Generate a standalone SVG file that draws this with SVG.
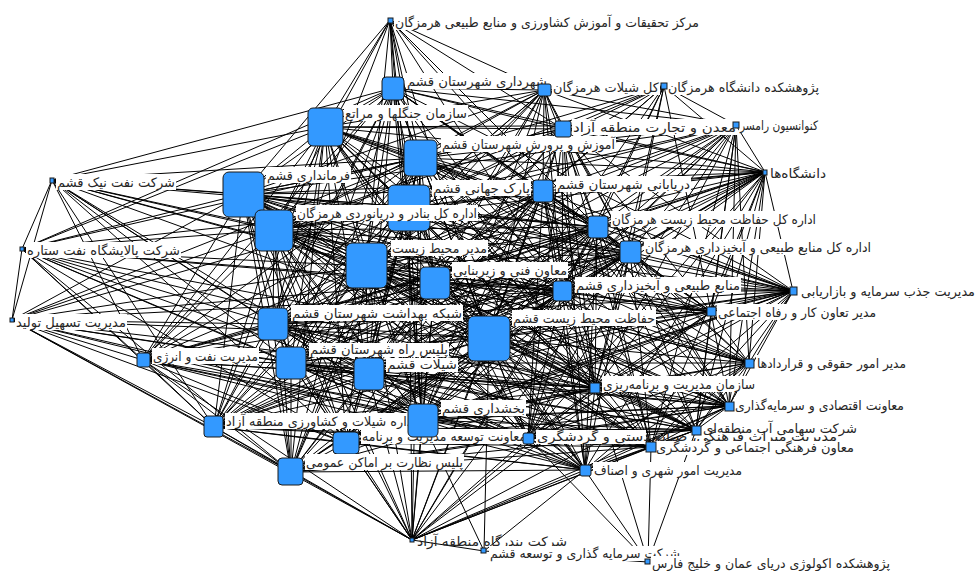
<svg xmlns="http://www.w3.org/2000/svg" width="976" height="571" viewBox="0 0 976 571">
<style>
.e{stroke:#000;stroke-width:1;fill:none}
.n{fill:#3399ff;stroke:#1a1a1a;stroke-width:1}
.b{fill:#fff}
.t{font-family:"DejaVu Sans",sans-serif;font-size:13px;fill:#262626}
</style>
<rect width="976" height="571" fill="#fff"/>
<g id="edges" class="e">
<path d="M390 20L393 88M390 20L544 90M390 20L563 129M390 20L420 158M390 20L325 127M390 20L243 194M390 20L409 207M390 20L274 230M390 20L366 266M390 20L562 291M390 20L543 191M390 20L273 324M390 20L435 283M390 20L489 338M390 20L597 227M390 20L422 420"/>
<path d="M544 90L664 86M544 90L736 125M544 90L563 129M544 90L420 158M544 90L325 127M544 90L409 207M544 90L543 191M544 90L366 266M544 90L435 283M544 90L597 227M544 90L630 252M544 90L562 291M544 90L489 338M544 90L368 374M544 90L765 172M544 90L393 88M544 90L243 194M544 90L274 230M544 90L273 324M544 90L291 363M544 90L422 420M544 90L595 388"/>
<path d="M664 86L736 125M664 86L563 129M664 86L543 191M664 86L597 227M664 86L630 252M664 86L562 291M664 86L489 338M664 86L420 158M664 86L409 207M664 86L435 283M664 86L765 172M664 86L711 312M664 86L366 266M664 86L274 230M664 86L595 388"/>
<path d="M736 125L563 129M736 125L420 158M736 125L409 207M736 125L543 191M736 125L366 266M736 125L435 283M736 125L597 227M736 125L630 252M736 125L562 291M736 125L489 338M736 125L393 88M736 125L595 388M736 125L711 312M736 125L749 363M736 125L765 172M736 125L528 438M736 125L729 406M736 125L325 127M736 125L243 194M736 125L274 230M736 125L273 324M736 125L368 374M736 125L422 420M736 125L651 447M736 125L696 430"/>
<path d="M765 172L563 129M765 172L420 158M765 172L409 207M765 172L543 191M765 172L366 266M765 172L435 283M765 172L597 227M765 172L630 252M765 172L562 291M765 172L489 338M765 172L393 88M765 172L325 127M765 172L243 194M765 172L274 230M765 172L368 374M765 172L422 420M765 172L528 438M765 172L595 388M765 172L711 312M765 172L793 291M765 172L749 363M765 172L729 406M765 172L696 430M765 172L273 324M765 172L291 363M765 172L214 427M765 172L585 470M765 172L651 447M765 172L346 443"/>
<path d="M793 291L543 191M793 291L366 266M793 291L435 283M793 291L597 227M793 291L630 252M793 291L562 291M793 291L489 338M793 291L420 158M793 291L409 207M793 291L274 230M793 291L243 194M793 291L273 324M793 291L368 374M793 291L422 420M793 291L595 388M793 291L711 312M793 291L749 363M793 291L729 406M793 291L528 438M793 291L585 470M793 291L651 447M793 291L696 430M793 291L563 129M793 291L291 363M793 291L214 427M793 291L291 472M793 291L346 443M793 291L325 127M793 291L393 88"/>
<path d="M52 180L22 249M52 180L12 320M52 180L325 127M52 180L243 194M52 180L274 230M52 180L366 266M52 180L409 207M52 180L420 158M52 180L273 324M52 180L291 363M52 180L143 360M52 180L393 88M52 180L435 283M52 180L489 338M52 180L368 374M52 180L214 427M52 180L422 420M52 180L597 227M52 180L562 291M52 180L346 443"/>
<path d="M22 249L12 320M22 249L243 194M22 249L274 230M22 249L366 266M22 249L273 324M22 249L291 363M22 249L409 207M22 249L435 283M22 249L489 338M22 249L368 374M22 249L422 420M22 249L143 360M22 249L214 427M22 249L420 158M22 249L325 127M22 249L393 88M22 249L291 472M22 249L346 443M22 249L562 291M22 249L595 388"/>
<path d="M12 320L143 360M12 320L214 427M12 320L291 472M12 320L273 324M12 320L291 363M12 320L368 374M12 320L422 420M12 320L346 443M12 320L274 230M12 320L243 194M12 320L366 266M12 320L489 338M12 320L412 540M12 320L409 207M12 320L420 158M12 320L435 283M12 320L562 291M12 320L528 438M12 320L595 388"/>
<path d="M143 360L243 194M143 360L274 230M143 360L366 266M143 360L273 324M143 360L291 363M143 360L368 374M143 360L422 420M143 360L214 427M143 360L291 472M143 360L346 443M143 360L489 338M143 360L435 283M143 360L409 207M143 360L528 438M143 360L412 540M143 360L562 291M143 360L420 158M143 360L595 388M143 360L325 127M143 360L393 88M143 360L597 227M143 360L630 252M143 360L585 470M143 360L651 447"/>
<path d="M412 540L214 427M412 540L291 472M412 540L346 443M412 540L368 374M412 540L422 420M412 540L489 338M412 540L366 266M412 540L435 283M412 540L273 324M412 540L291 363M412 540L528 438M412 540L585 470M412 540L651 447M412 540L696 430M412 540L729 406M412 540L595 388M412 540L562 291M412 540L243 194M412 540L274 230M412 540L484 551M412 540L409 207M412 540L420 158M412 540L543 191M412 540L597 227M412 540L630 252M412 540L749 363M412 540L711 312"/>
<path d="M484 551L648 562M484 551L422 420M484 551L585 470M484 551L489 338M648 562L585 470M648 562L651 447M648 562L528 438M648 562L595 388M648 562L696 430"/>
<path d="M393 88L563 129M393 88L420 158M393 88L325 127M393 88L243 194M393 88L409 207M393 88L543 191M393 88L274 230M393 88L366 266M393 88L435 283M393 88L597 227M393 88L562 291M393 88L489 338M393 88L273 324M393 88L368 374M393 88L422 420M393 88L291 472M393 88L595 388M393 88L711 312M393 88L630 252M393 88L291 363M393 88L214 427"/>
<path d="M563 129L420 158M563 129L325 127M563 129L243 194M563 129L409 207M563 129L543 191M563 129L274 230M563 129L366 266M563 129L435 283M563 129L597 227M563 129L630 252M563 129L562 291M563 129L489 338M563 129L422 420M563 129L528 438M563 129L729 406M563 129L595 388M563 129L711 312M563 129L273 324M563 129L368 374M563 129L291 363M563 129L585 470M563 129L651 447"/>
<path d="M420 158L325 127M420 158L243 194M420 158L409 207M420 158L543 191M420 158L274 230M420 158L366 266M420 158L435 283M420 158L597 227M420 158L630 252M420 158L562 291M420 158L489 338M420 158L273 324M420 158L291 363M420 158L368 374M420 158L422 420M420 158L214 427M420 158L291 472M420 158L346 443M420 158L528 438M420 158L585 470M420 158L651 447M420 158L729 406M420 158L595 388M420 158L749 363M420 158L711 312"/>
<path d="M325 127L243 194M325 127L409 207M325 127L543 191M325 127L274 230M325 127L366 266M325 127L435 283M325 127L597 227M325 127L630 252M325 127L562 291M325 127L489 338M325 127L273 324M325 127L291 363M325 127L368 374M325 127L422 420M325 127L214 427M325 127L291 472M325 127L346 443M325 127L585 470M325 127L696 430M325 127L595 388M325 127L528 438M325 127L651 447"/>
<path d="M243 194L409 207M243 194L543 191M243 194L274 230M243 194L366 266M243 194L435 283M243 194L597 227M243 194L630 252M243 194L562 291M243 194L489 338M243 194L273 324M243 194L291 363M243 194L368 374M243 194L422 420M243 194L214 427M243 194L291 472M243 194L346 443M243 194L528 438M243 194L585 470M243 194L651 447M243 194L696 430M243 194L729 406M243 194L595 388M243 194L749 363M243 194L711 312"/>
<path d="M409 207L543 191M409 207L274 230M409 207L366 266M409 207L435 283M409 207L597 227M409 207L630 252M409 207L562 291M409 207L489 338M409 207L273 324M409 207L291 363M409 207L368 374M409 207L422 420M409 207L214 427M409 207L291 472M409 207L346 443M409 207L528 438M409 207L585 470M409 207L651 447M409 207L729 406M409 207L595 388M409 207L749 363M409 207L711 312"/>
<path d="M543 191L274 230M543 191L366 266M543 191L435 283M543 191L597 227M543 191L630 252M543 191L562 291M543 191L489 338M543 191L273 324M543 191L291 363M543 191L368 374M543 191L422 420M543 191L291 472M543 191L528 438M543 191L585 470M543 191L729 406M543 191L595 388M543 191L711 312M543 191L214 427M543 191L346 443M543 191L651 447"/>
<path d="M274 230L366 266M274 230L435 283M274 230L597 227M274 230L630 252M274 230L562 291M274 230L489 338M274 230L273 324M274 230L291 363M274 230L368 374M274 230L422 420M274 230L214 427M274 230L291 472M274 230L346 443M274 230L528 438M274 230L585 470M274 230L651 447M274 230L696 430M274 230L729 406M274 230L595 388M274 230L749 363M274 230L711 312"/>
<path d="M366 266L435 283M366 266L597 227M366 266L630 252M366 266L562 291M366 266L489 338M366 266L273 324M366 266L291 363M366 266L368 374M366 266L422 420M366 266L214 427M366 266L291 472M366 266L346 443M366 266L528 438M366 266L585 470M366 266L651 447M366 266L696 430M366 266L729 406M366 266L595 388M366 266L749 363M366 266L711 312"/>
<path d="M435 283L597 227M435 283L630 252M435 283L562 291M435 283L489 338M435 283L273 324M435 283L291 363M435 283L368 374M435 283L422 420M435 283L214 427M435 283L291 472M435 283L346 443M435 283L528 438M435 283L585 470M435 283L696 430M435 283L729 406M435 283L595 388M435 283L749 363M435 283L711 312M435 283L651 447"/>
<path d="M597 227L630 252M597 227L562 291M597 227L489 338M597 227L273 324M597 227L291 363M597 227L368 374M597 227L422 420M597 227L291 472M597 227L528 438M597 227L651 447M597 227L729 406M597 227L595 388M597 227L749 363M597 227L711 312M597 227L214 427M597 227L346 443M597 227L585 470M597 227L696 430"/>
<path d="M630 252L562 291M630 252L489 338M630 252L273 324M630 252L291 363M630 252L368 374M630 252L422 420M630 252L214 427M630 252L346 443M630 252L585 470M630 252L696 430M630 252L729 406M630 252L595 388M630 252L749 363M630 252L711 312M630 252L291 472M630 252L528 438M630 252L651 447"/>
<path d="M562 291L489 338M562 291L273 324M562 291L291 363M562 291L368 374M562 291L422 420M562 291L214 427M562 291L291 472M562 291L528 438M562 291L585 470M562 291L651 447M562 291L729 406M562 291L595 388M562 291L749 363M562 291L711 312M562 291L346 443M562 291L696 430"/>
<path d="M489 338L273 324M489 338L291 363M489 338L368 374M489 338L422 420M489 338L214 427M489 338L291 472M489 338L346 443M489 338L528 438M489 338L585 470M489 338L651 447M489 338L696 430M489 338L729 406M489 338L595 388M489 338L749 363M489 338L711 312"/>
<path d="M273 324L291 363M273 324L368 374M273 324L422 420M273 324L214 427M273 324L291 472M273 324L346 443M273 324L528 438M273 324L585 470M273 324L651 447M273 324L595 388M273 324L711 312M273 324L696 430M273 324L729 406"/>
<path d="M291 363L368 374M291 363L422 420M291 363L214 427M291 363L291 472M291 363L346 443M291 363L528 438M291 363L585 470M291 363L696 430M291 363L595 388M291 363L749 363M291 363L651 447M291 363L729 406"/>
<path d="M368 374L422 420M368 374L214 427M368 374L291 472M368 374L346 443M368 374L528 438M368 374L585 470M368 374L651 447M368 374L729 406M368 374L595 388M368 374L711 312M368 374L696 430"/>
<path d="M422 420L214 427M422 420L291 472M422 420L346 443M422 420L528 438M422 420L585 470M422 420L651 447M422 420L696 430M422 420L729 406M422 420L595 388M422 420L749 363M422 420L711 312"/>
<path d="M214 427L291 472M214 427L346 443M214 427L528 438M214 427L585 470M214 427L651 447M214 427L595 388M214 427L696 430M214 427L729 406M291 472L346 443M291 472L528 438M291 472L585 470M291 472L651 447M291 472L696 430M291 472L595 388M291 472L729 406M346 443L528 438M346 443L585 470M346 443L651 447M346 443L729 406M346 443L595 388M346 443L696 430"/>
<path d="M528 438L585 470M528 438L651 447M528 438L696 430M528 438L729 406M528 438L595 388M528 438L749 363M528 438L711 312M585 470L651 447M585 470L696 430M585 470L729 406M585 470L595 388M585 470L749 363M651 447L696 430M651 447L729 406M651 447L595 388M651 447L749 363M696 430L729 406M696 430L595 388M696 430L749 363M696 430L711 312M729 406L595 388M729 406L749 363M729 406L711 312M595 388L749 363M595 388L711 312M749 363L711 312"/>
</g>
<g id="n1"><rect class="b" x="394" y="14" width="306" height="16"/><text class="t" x="395" y="27" textLength="304" lengthAdjust="spacingAndGlyphs">مرکز تحقیقات و آموزش کشاورزی و منابع طبیعی هرمزگان</text><rect class="n" x="388" y="18" width="5" height="5"/></g>
<g id="n2"><rect class="b" x="406" y="73" width="142" height="16"/><text class="t" x="407" y="86" textLength="140" lengthAdjust="spacingAndGlyphs">شهرداری شهرستان قشم</text><rect class="n" x="382" y="77" width="22" height="23" rx="4"/></g>
<g id="n3"><rect class="b" x="552" y="79" width="108" height="16"/><text class="t" x="553" y="92" textLength="106" lengthAdjust="spacingAndGlyphs">کل شیلات هرمزگان</text><rect class="n" x="538" y="84" width="13" height="12" rx="2"/></g>
<g id="n4"><rect class="b" x="667" y="79" width="153" height="16"/><text class="t" x="668" y="92" textLength="151" lengthAdjust="spacingAndGlyphs">پژوهشکده دانشگاه هرمزگان</text><rect class="n" x="661" y="83" width="6" height="6"/></g>
<g id="n7"><rect class="b" x="441" y="136" width="175" height="16"/><text class="t" x="442" y="149" textLength="173" lengthAdjust="spacingAndGlyphs">آموزش و پرورش شهرستان قشم</text><rect class="n" x="404" y="140" width="33" height="36" rx="5"/></g>
<g id="n6"><rect class="b" x="572" y="119" width="165" height="16"/><text class="t" x="573" y="132" textLength="163" lengthAdjust="spacingAndGlyphs">معدن و تجارت منطقه آزاد</text><rect class="n" x="555" y="121" width="16" height="16" rx="2"/></g>
<g id="n5"><rect class="b" x="739" y="117" width="80" height="16"/><text class="t" x="740" y="130" textLength="78" lengthAdjust="spacingAndGlyphs">کنوانسیون رامسر</text><rect class="n" x="733" y="122" width="6" height="6"/></g>
<g id="n8"><rect class="b" x="344" y="105" width="124" height="16"/><text class="t" x="345" y="118" textLength="122" lengthAdjust="spacingAndGlyphs">سازمان جنگلها و مراتع</text><rect class="n" x="308" y="108" width="35" height="38" rx="5"/></g>
<g id="n9"><rect class="b" x="266" y="167" width="85" height="16"/><text class="t" x="267" y="180" textLength="83" lengthAdjust="spacingAndGlyphs">فرمانداری قشم</text><rect class="n" x="223" y="172" width="41" height="45" rx="6"/></g>
<g id="n10"><rect class="b" x="432" y="180" width="99" height="16"/><text class="t" x="433" y="193" textLength="97" lengthAdjust="spacingAndGlyphs">پارک جهانی قشم</text><rect class="n" x="388" y="185" width="42" height="46" rx="6"/></g>
<g id="n11"><rect class="b" x="556" y="176" width="135" height="16"/><text class="t" x="557" y="189" textLength="133" lengthAdjust="spacingAndGlyphs">دریابانی شهرستان قشم</text><rect class="n" x="533" y="180" width="20" height="22" rx="3"/></g>
<g id="n12"><rect class="b" x="296" y="205" width="182" height="16"/><text class="t" x="297" y="218" textLength="180" lengthAdjust="spacingAndGlyphs">اداره کل بنادر و دریانوردی هرمزگان</text><rect class="n" x="255" y="210" width="38" height="41" rx="6"/></g>
<g id="n13"><rect class="b" x="391" y="240" width="97" height="16"/><text class="t" x="392" y="253" textLength="95" lengthAdjust="spacingAndGlyphs">مدیر محیط زیست</text><rect class="n" x="346" y="243" width="41" height="45" rx="6"/></g>
<g id="n14"><rect class="b" x="452" y="262" width="116" height="16"/><text class="t" x="453" y="275" textLength="114" lengthAdjust="spacingAndGlyphs">معاون فنی و زیربنایی</text><rect class="n" x="420" y="267" width="30" height="32" rx="5"/></g>
<g id="n15"><rect class="b" x="611" y="211" width="206" height="16"/><text class="t" x="612" y="224" textLength="204" lengthAdjust="spacingAndGlyphs">اداره کل حفاظت محیط زیست هرمزگان</text><rect class="n" x="588" y="216" width="20" height="22" rx="3"/></g>
<g id="n16"><rect class="b" x="644" y="239" width="228" height="16"/><text class="t" x="645" y="252" textLength="226" lengthAdjust="spacingAndGlyphs">اداره کل منابع طبیعی و آبخیزداری هرمزگان</text><rect class="n" x="620" y="241" width="21" height="22" rx="3"/></g>
<g id="n17"><rect class="b" x="575" y="277" width="166" height="16"/><text class="t" x="576" y="290" textLength="164" lengthAdjust="spacingAndGlyphs">منابع طبیعی و آبخیزداری قشم</text><rect class="n" x="553" y="281" width="19" height="20" rx="3"/></g>
<g id="n18"><rect class="b" x="512" y="310" width="144" height="16"/><text class="t" x="513" y="323" textLength="142" lengthAdjust="spacingAndGlyphs">حفاظت محیط زیست قشم</text><rect class="n" x="468" y="316" width="42" height="45" rx="6"/></g>
<g id="n19"><rect class="b" x="291" y="305" width="172" height="16"/><text class="t" x="292" y="318" textLength="170" lengthAdjust="spacingAndGlyphs">شبکه بهداشت شهرستان قشم</text><rect class="n" x="258" y="308" width="30" height="32" rx="5"/></g>
<g id="n20"><rect class="b" x="309" y="343" width="140" height="14"/><text class="t" x="310" y="354" font-size="12" textLength="138" lengthAdjust="spacingAndGlyphs">پلیس راه شهرستان قشم</text><rect class="n" x="276" y="347" width="30" height="32" rx="5"/></g>
<g id="n21"><rect class="b" x="386" y="358" width="72" height="14"/><text class="t" x="387" y="369" font-size="12" textLength="70" lengthAdjust="spacingAndGlyphs">شیلات قشم</text><rect class="n" x="354" y="358" width="30" height="32" rx="5"/></g>
<g id="n23"><rect class="b" x="225" y="413" width="192" height="16"/><text class="t" x="226" y="426" textLength="190" lengthAdjust="spacingAndGlyphs">اداره شیلات و کشاورزی منطقه آزاد</text><rect class="n" x="204" y="416" width="19" height="21" rx="3"/></g>
<g id="n25"><rect class="b" x="361" y="429" width="166" height="15"/><text class="t" x="362" y="441" textLength="164" lengthAdjust="spacingAndGlyphs">معاونت توسعه مدیریت و برنامه</text><rect class="n" x="333" y="432" width="26" height="22" rx="4"/></g>
<g id="n22"><rect class="b" x="441" y="400" width="85" height="16"/><text class="t" x="442" y="413" textLength="83" lengthAdjust="spacingAndGlyphs">بخشداری قشم</text><rect class="n" x="408" y="404" width="30" height="33" rx="5"/></g>
<g id="n24"><rect class="b" x="305" y="454" width="159" height="16"/><text class="t" x="306" y="467" textLength="157" lengthAdjust="spacingAndGlyphs">پلیس نظارت بر اماکن عمومی</text><rect class="n" x="278" y="458" width="25" height="27" rx="4"/></g>
<g id="n26"><rect class="b" x="536" y="430" width="110" height="14"/><text class="t" x="537" y="441" font-size="12" textLength="300" lengthAdjust="spacingAndGlyphs">مدیریت میراث فرهنگی، صنایع دستی و گردشگری</text><rect class="n" x="523" y="433" width="11" height="11" rx="2"/></g>
<g id="n27"><rect class="b" x="593" y="462" width="150" height="16"/><text class="t" x="594" y="475" textLength="148" lengthAdjust="spacingAndGlyphs">مدیریت امور شهری و اصناف</text><rect class="n" x="580" y="465" width="11" height="11" rx="2"/></g>
<g id="n28"><text class="t" x="417" y="546" textLength="150" lengthAdjust="spacingAndGlyphs">شرکت بندرگاه منطقه آزاد</text><rect class="n" x="410" y="538" width="4" height="4"/></g>
<g id="n29"><rect class="b" x="489" y="546" width="192" height="15"/><text class="t" x="490" y="558" textLength="190" lengthAdjust="spacingAndGlyphs">شرکت سرمایه گذاری و توسعه قشم</text><rect class="n" x="481" y="548" width="5" height="5"/></g>
<g id="n30"><rect class="b" x="651" y="556" width="240" height="15"/><text class="t" x="652" y="568" textLength="238" lengthAdjust="spacingAndGlyphs">پژوهشکده اکولوژی دریای عمان و خلیج فارس</text><rect class="n" x="645" y="559" width="5" height="5"/></g>
<g id="n32"><text class="t" x="703" y="433" font-size="12" textLength="154" lengthAdjust="spacingAndGlyphs">شرکت سهامی آب منطقه‌ای</text><rect class="n" x="692" y="426" width="9" height="9"/></g>
<g id="n31"><rect class="b" x="655" y="441" width="200" height="14"/><text class="t" x="656" y="452" font-size="12" textLength="198" lengthAdjust="spacingAndGlyphs">معاون فرهنگی اجتماعی و گردشگری</text><rect class="n" x="646" y="442" width="10" height="10"/></g>
<g id="n33"><rect class="b" x="734" y="397" width="171" height="16"/><text class="t" x="735" y="410" textLength="169" lengthAdjust="spacingAndGlyphs">معاونت اقتصادی و سرمایه‌گذاری</text><rect class="n" x="725" y="402" width="9" height="9"/></g>
<g id="n34"><rect class="b" x="602" y="376" width="154" height="16"/><text class="t" x="603" y="389" textLength="152" lengthAdjust="spacingAndGlyphs">سازمان مدیریت و برنامه‌ریزی</text><rect class="n" x="590" y="383" width="10" height="10"/></g>
<g id="n35"><rect class="b" x="756" y="355" width="151" height="16"/><text class="t" x="757" y="368" textLength="149" lengthAdjust="spacingAndGlyphs">مدیر امور حقوقی و قراردادها</text><rect class="n" x="745" y="359" width="9" height="9"/></g>
<g id="n36"><rect class="b" x="717" y="304" width="160" height="16"/><text class="t" x="718" y="317" textLength="158" lengthAdjust="spacingAndGlyphs">مدیر تعاون کار و رفاه اجتماعی</text><rect class="n" x="707" y="307" width="9" height="9"/></g>
<g id="n37"><rect class="b" x="800" y="283" width="176" height="16"/><text class="t" x="801" y="296" textLength="174" lengthAdjust="spacingAndGlyphs">مدیریت جذب سرمایه و بازاریابی</text><rect class="n" x="790" y="287" width="7" height="8"/></g>
<g id="n38"><rect class="b" x="769" y="165" width="58" height="16"/><text class="t" x="770" y="178" textLength="56" lengthAdjust="spacingAndGlyphs">دانشگاه‌ها</text><rect class="n" x="763" y="170" width="4" height="5"/></g>
<g id="n39"><rect class="b" x="56" y="174" width="120" height="16"/><text class="t" x="57" y="187" textLength="118" lengthAdjust="spacingAndGlyphs">شرکت نفت نیک قشم</text><rect class="n" x="50" y="178" width="4" height="5"/></g>
<g id="n40"><rect class="b" x="26" y="242" width="155" height="16"/><text class="t" x="27" y="255" textLength="153" lengthAdjust="spacingAndGlyphs">شرکت پالایشگاه نفت ستاره</text><rect class="n" x="20" y="247" width="4" height="4"/></g>
<g id="n41"><rect class="b" x="15" y="314" width="112" height="16"/><text class="t" x="16" y="327" textLength="110" lengthAdjust="spacingAndGlyphs">مدیریت تسهیل تولید</text><rect class="n" x="10" y="318" width="4" height="4"/></g>
<g id="n42"><rect class="b" x="152" y="348" width="107" height="16"/><text class="t" x="153" y="361" textLength="105" lengthAdjust="spacingAndGlyphs">مدیریت نفت و انرژی</text><rect class="n" x="137" y="353" width="13" height="14" rx="2"/></g>
</svg>
